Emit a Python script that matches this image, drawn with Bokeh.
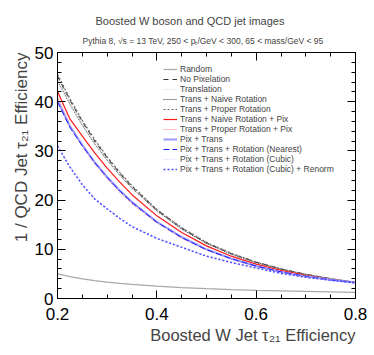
from bokeh.plotting import figure
from bokeh.models import (Range1d, LinearAxis, FixedTicker, Legend, LegendItem,
                          Title, CustomJSTickFormatter)
from bokeh.embed import file_html
from bokeh.resources import INLINE

# ---------------- data ----------------
sig_eff = [0.20, 0.225, 0.25, 0.275, 0.30, 0.325, 0.35, 0.40, 0.45, 0.50,
           0.55, 0.60, 0.65, 0.70, 0.75, 0.80]

random_rej = [5.0, 4.44, 4.0, 3.64, 3.33, 3.08, 2.86, 2.5, 2.22, 2.0,
              1.82, 1.67, 1.54, 1.43, 1.33, 1.25]
no_pix = [45.2, 40.3, 35.9, 32.0, 28.6, 25.5, 22.7, 18.0, 14.3, 11.3,
          9.1, 7.4, 6.0, 4.9, 4.0, 3.3]
translation = [45.0, 40.1, 35.7, 31.8, 28.4, 25.3, 22.6, 17.9, 14.2, 11.2,
               9.1, 7.4, 6.0, 4.9, 4.0, 3.3]
trans_naive = [44.3, 39.5, 35.2, 31.4, 28.1, 25.1, 22.4, 17.8, 14.1, 11.2,
               9.0, 7.3, 6.0, 4.9, 4.0, 3.3]
trans_proper = [45.6, 40.6, 36.2, 32.3, 28.8, 25.7, 22.9, 18.1, 14.4, 11.4,
                9.2, 7.4, 6.0, 4.9, 4.0, 3.3]
trans_naive_pix = [42.1, 36.5, 33.0, 29.6, 26.5, 23.7, 21.1, 16.8, 13.4, 10.7,
                   8.6, 7.0, 5.7, 4.7, 3.9, 3.25]
trans_proper_pix = [41.0, 35.3, 31.0, 27.4, 24.4, 21.7, 19.3, 15.4, 12.3, 9.9,
                    8.0, 6.5, 5.3, 4.4, 3.8, 3.2]
pix_trans = [40.2, 35.0, 31.2, 27.7, 24.7, 22.0, 19.6, 15.6, 12.5, 10.0,
             8.1, 6.6, 5.4, 4.5, 3.8, 3.2]
pix_rot_nearest = [40.0, 34.8, 31.0, 27.6, 24.6, 21.9, 19.5, 15.5, 12.4, 9.9,
                   8.1, 6.6, 5.4, 4.5, 3.8, 3.2]
pix_rot_cubic = [31.2, 26.9, 23.3, 20.4, 18.4, 16.5, 14.8, 12.4, 10.5, 8.7,
                 7.4, 6.3, 5.2, 4.4, 3.8, 3.2]
pix_rot_renorm = [31.0, 26.7, 23.1, 20.2, 18.2, 16.3, 14.6, 12.2, 10.4, 8.6,
                  7.3, 6.2, 5.1, 4.3, 3.7, 3.2]

labels = ["Random", "No Pixelation", "Translation", "Trans + Naive Rotation",
          "Trans + Proper Rotation", "Trans + Naive Rotation + Pix",
          "Trans + Proper Rotation + Pix", "Pix + Trans",
          "Pix + Trans + Rotation (Nearest)", "Pix + Trans + Rotation (Cubic)",
          "Pix + Trans + Rotation (Cubic) + Renorm"]
series = [random_rej, no_pix, translation, trans_naive, trans_proper,
          trans_naive_pix, trans_proper_pix, pix_trans, pix_rot_nearest,
          pix_rot_cubic, pix_rot_renorm]

x_major = [0.2, 0.4, 0.6, 0.8]
x_minor = [0.25, 0.3, 0.35, 0.45, 0.5, 0.55, 0.65, 0.7, 0.75]
y_major = [0, 10, 20, 30, 40, 50]
y_minor = [2, 4, 6, 8, 12, 14, 16, 18, 22, 24, 26, 28, 32, 34, 36, 38, 42, 44, 46, 48]

title_text = "Boosted W boson and QCD jet images"
subtitle_text = "Pythia 8, √s = 13 TeV, 250 < pₜ/GeV < 300, 65 < mass/GeV < 95"
x_title = "Boosted W Jet τ₂₁ Efficiency"
y_title = "1 / QCD Jet τ₂₁ Efficiency"

# ---------------- styles ----------------
colors = ["#a8a8a8", "#333333", "#d0d0d0", "#333333", "#666666", "#ff1a1a",
          "#ff7f7f", "#9a9aff", "#1a1aff", "#d0d0ff", "#4d4dff"]
dashes = ["solid", "5 4", "1 2", "1 1", "2 2", "solid", "1 1", "solid",
          "6 3", "1 2", "2 2"]
widths = [1.2, 1.2, 1.2, 1.0, 1.2, 1.2, 1.2, 2.0, 1.0, 1.5, 1.5]

FONT = "Liberation Sans"

p = figure(frame_width=298, frame_height=246, x_range=Range1d(0.2, 0.8),
           y_range=Range1d(0, 50), output_backend="svg", toolbar_location=None,
           title=None, min_border_left=57, min_border_right=13,
           min_border_top=52, min_border_bottom=55)
p.xgrid.visible = False
p.ygrid.visible = False
p.outline_line_color = "black"
p.outline_line_width = 1
p.background_fill_color = "white"
p.border_fill_color = "white"

renderers = []
for ys, c, d, w in zip(series, colors, dashes, widths):
    r = p.line(sig_eff, ys, line_color=c, line_dash=d, line_width=w)
    renderers.append(r)

def style_axis(ax, ticks, minor, show_labels):
    ax.ticker = FixedTicker(ticks=ticks, minor_ticks=minor)
    ax.major_tick_in = 8
    ax.major_tick_out = 0
    ax.minor_tick_in = 4
    ax.minor_tick_out = 0
    ax.axis_line_color = "black"
    ax.major_tick_line_color = "black"
    ax.minor_tick_line_color = "black"
    if show_labels:
        ax.major_label_text_font = FONT
        ax.major_label_text_font_size = "17px"
        ax.major_label_text_color = "black"
    else:
        ax.formatter = CustomJSTickFormatter(code="return ''")
        ax.major_label_text_font_size = "1px"
        ax.major_label_standoff = 0

xa = p.xaxis[0]
ya = p.yaxis[0]
style_axis(xa, x_major, x_minor, True)
style_axis(ya, y_major, y_minor, True)
xa.major_label_standoff = 9
ya.major_label_standoff = 4

top_ax = LinearAxis()
right_ax = LinearAxis()
style_axis(top_ax, x_major, x_minor, False)
style_axis(right_ax, y_major, y_minor, False)
p.add_layout(top_ax, "above")
p.add_layout(right_ax, "right")

# axis titles, right-aligned at the axis ends (ROOT style)
p.add_layout(Title(text=x_title, align="right", text_font=FONT,
                   text_font_size="16.5px", text_font_style="normal",
                   standoff=3), "below")
p.add_layout(Title(text=y_title, align="right", text_font=FONT,
                   text_font_size="17px", text_font_style="normal",
                   standoff=2), "left")

sub = Title(text=subtitle_text, text_font=FONT, text_font_size="8.5px",
            text_font_style="normal", align="left", offset=25, standoff=14)
main = Title(text=title_text, text_font=FONT, text_font_size="11px",
             text_font_style="normal", align="left", offset=38, standoff=0)
p.add_layout(sub, "above")
p.add_layout(main, "above")

items = [LegendItem(label=l, renderers=[r]) for l, r in zip(labels, renderers)]
legend = Legend(items=items, location=(106, 124), border_line_color=None,
                background_fill_alpha=0, label_text_font=FONT,
                label_text_font_size="8.5px", glyph_width=14, glyph_height=10,
                label_height=10, spacing=0, padding=0, margin=0,
                label_standoff=3)
p.add_layout(legend)

open("out.html", "w").write(file_html(p, INLINE))
